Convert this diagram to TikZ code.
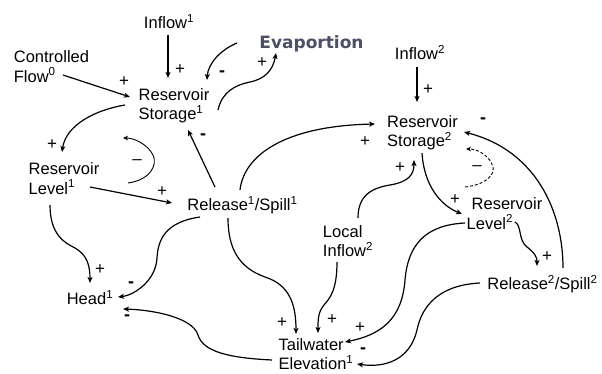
\documentclass[tikz,border=0pt]{standalone}
\usepackage{fontspec}
\setmainfont{Liberation Sans}
\newfontfamily\evfont{DejaVu Sans}
\usetikzlibrary{arrows.meta}
\definecolor{evcol}{RGB}{78,80,98}
\begin{document}
\begin{tikzpicture}[x=1pt,y=-1pt,
  lbl/.style={font=\fontsize{16.5}{19.5}\selectfont, inner sep=0pt, align=left},
  evs/.style={font=\evfont\bfseries\fontsize{17}{19}\selectfont, text=evcol, inner sep=0pt},
  sgn/.style={font=\fontsize{17}{17}\selectfont, inner sep=0pt},
  neg/.style={font=\bfseries\fontsize{18}{18}\selectfont, inner sep=0pt},
  lnk/.style={line width=1.2pt, -{Stealth[length=6pt,width=5pt,inset=1.5pt]}},
  loopln/.style={line width=0.9pt, -{Stealth[length=5pt,width=4.5pt,inset=1.5pt]}}]
\useasboundingbox[fill=white] (0,0) rectangle (602,374);
% nodes
\node[lbl] (I1) at (169,21.5) {Inflow\textsuperscript{1}};
\node[lbl] (CF) at (51.5,66.5) {Controlled\\Flow\textsuperscript{0}};
\node[lbl] (S1) at (174,105.5) {Reservoir\\Storage\textsuperscript{1}};
\node[evs] (EV) at (311.5,43.5) {Evaportion};
\node[lbl] (I2) at (420,52.5) {Inflow\textsuperscript{2}};
\node[lbl] (S2) at (422.5,132.5) {Reservoir\\Storage\textsuperscript{2}};
\node[lbl] (L1) at (64,178.5) {Reservoir\\Level\textsuperscript{1}};
\node[lbl] (R1) at (242.5,205) {Release\textsuperscript{1}/Spill\textsuperscript{1}};
\node[lbl] (H1) at (90,297.5) {Head\textsuperscript{1}};
\node[lbl] (TW) at (316,354) {Tailwater\\Elevation\textsuperscript{1}};
\node[lbl] (LI) at (348,241) {Local\\Inflow\textsuperscript{2}};
\node[lbl] (L2) at (504.5,213.5) {\hspace{5pt}Reservoir\\Level\textsuperscript{2}};
\node[lbl] (R2) at (542.5,284.5) {Release\textsuperscript{2}/Spill\textsuperscript{2}};
% connectors
\draw[lnk] ([shift={(-1,13.5)}]I1.center) -- ([shift={(-6,-27.5)}]S1.center);
\draw[lnk] ([shift={(11.5,8.5)}]CF.center) -- ([shift={(-44,-8.5)}]S1.center);
\draw[lnk] ([shift={(-74.5,-0.5)}]EV.center) .. controls (220,50) and (208,64) .. ([shift={(33,-25.5)}]S1.center);
\draw[lnk] ([shift={(44,4.5)}]S1.center) .. controls (222,92) and (235,85) .. (250,82) .. controls (265,79) and (273,70) .. ([shift={(-35.5,9.5)}]EV.center);
\draw[lnk] ([shift={(-49,-0.5)}]S1.center) .. controls (95,110) and (66,125) .. ([shift={(-2,-26.5)}]L1.center);
\draw[lnk] ([shift={(26,8.5)}]L1.center) -- ([shift={(-70.5,-2)}]R1.center);
\draw[lnk] ([shift={(-27.5,-18)}]R1.center) -- ([shift={(14,24.5)}]S1.center);
\draw[lnk] ([shift={(-2.5,-15)}]R1.center) .. controls (244,155) and (285,126) .. ([shift={(-47.5,-8.5)}]S2.center);
\draw[lnk] ([shift={(-14,26.5)}]L1.center) .. controls (50,235) and (65,243) .. (75,248) .. controls (87,255) and (90,265) .. ([shift={(0,-14.5)}]H1.center);
\draw[lnk] ([shift={(-42.5,12)}]R1.center) .. controls (165,222) and (158,240) .. (157,258) .. controls (156,280) and (135,295) .. ([shift={(28,-0.5)}]H1.center);
\draw[lnk] ([shift={(-14.5,13)}]R1.center) .. controls (228,250) and (240,268) .. (265,277) .. controls (290,285) and (296,305) .. ([shift={(-20,-20)}]TW.center);
\draw[lnk] ([shift={(-44,6)}]TW.center) .. controls (230,358) and (203,352) .. (198,335) .. controls (193,318) and (155,310) .. ([shift={(33,11.5)}]H1.center);
\draw[lnk] ([shift={(-11,21)}]LI.center) .. controls (337,290) and (330,298) .. (324,305) .. controls (318,312) and (318,320) .. ([shift={(2,-21)}]TW.center);
\draw[lnk] ([shift={(10,-23)}]LI.center) .. controls (358,195) and (372,188) .. (390,185) .. controls (408,182) and (414,175) .. ([shift={(-8.5,27.5)}]S2.center);
\draw[lnk] ([shift={(-3,14.5)}]I2.center) -- ([shift={(-5.5,-30.5)}]S2.center);
\draw[lnk] ([shift={(-0.5,20.5)}]S2.center) .. controls (424,185) and (440,205) .. ([shift={(-42.5,0.5)}]L2.center);
\draw[lnk] ([shift={(20.5,-16.5)}]R2.center) .. controls (563,210) and (535,150) .. ([shift={(41.5,-0.5)}]S2.center);
\draw[lnk] ([shift={(10.5,8.5)}]L2.center) .. controls (522,226) and (518,240) .. (527,247) .. controls (536,254) and (537,258) .. ([shift={(-5.5,-18.5)}]R2.center);
\draw[lnk] ([shift={(-39.5,9.5)}]L2.center) .. controls (425,225) and (408,245) .. (405,280) .. controls (402,320) and (380,335) .. ([shift={(29,-12)}]TW.center);
\draw[lnk] ([shift={(-62.5,-1.5)}]R2.center) .. controls (440,285) and (422,305) .. (417,330) .. controls (410,360) and (385,368) .. ([shift={(41,10)}]TW.center);
% loop markers
\draw[loopln] (128,183) .. controls (150,180) and (158,165) .. (153,155) .. controls (148,145) and (135,138) .. (123,138);
\draw[loopln, dashed, dash pattern=on 3pt off 2pt] (465,187) .. controls (485,185) and (495,175) .. (493,167) .. controls (490,156) and (478,149) .. (466,149);
\node[sgn] (m1) at (137,162) {--};
\node[sgn] (m2) at (477,168) {--};
% signs
\node[sgn] (p1) at (180,70) {+};
\node[sgn] (p2) at (124,82) {+};
\node[neg] (n1) at (222,74) {-};
\node[sgn] (p3) at (262,63) {+};
\node[sgn] (p4) at (52,145) {+};
\node[sgn] (p5) at (162,192) {+};
\node[neg] (n2) at (203,137) {-};
\node[sgn] (p6) at (365,142) {+};
\node[sgn] (p7) at (100,270) {+};
\node[neg] (n3) at (131,285) {-};
\node[sgn] (p8) at (282,323) {+};
\node[neg] (n4) at (127,318) {-};
\node[sgn] (p9) at (332,320) {+};
\node[sgn] (p10) at (400,168) {+};
\node[sgn] (p11) at (428,90) {+};
\node[sgn] (p12) at (455,200) {+};
\node[neg] (n5) at (483,121) {-};
\node[sgn] (p13) at (547,257) {+};
\node[sgn] (p14) at (360,328) {+};
\node[neg] (n6) at (363,351) {-};
\end{tikzpicture}
\end{document}
